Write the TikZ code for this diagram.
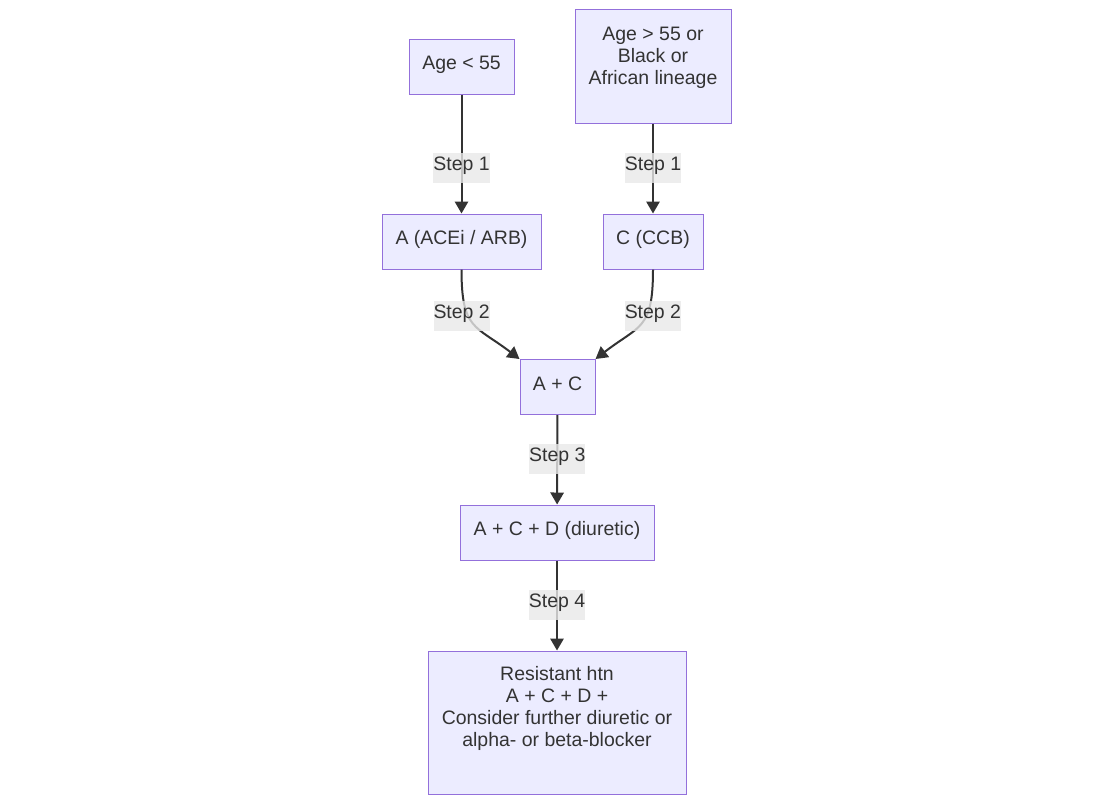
\documentclass[tikz,border=0pt]{standalone}
\usepackage{fontspec}
\setmainfont{Liberation Sans}
\usetikzlibrary{arrows.meta}
\definecolor{boxfill}{HTML}{ECECFF}
\definecolor{boxline}{HTML}{9370DB}
\definecolor{edgecol}{HTML}{333333}
\definecolor{lblbg}{HTML}{E8E8E8}
\begin{document}
\begin{tikzpicture}[x=0.75pt,y=-0.75pt,
  box/.style={draw=boxline, line width=0.75pt, fill=boxfill, text=edgecol,
    align=center, inner sep=0pt, minimum height=41.25pt,
    text height=10.5pt, text depth=6pt,
    font=\fontsize{14.6}{16.5}\selectfont},
  stepline/.style={draw=edgecol, line width=1.5pt,
    -{Triangle[length=9pt,width=10pt]}},
  steplabel/.style={fill=lblbg, fill opacity=0.8, text opacity=1, text=edgecol,
    inner xsep=0pt, inner ysep=0pt, text height=13pt, text depth=9.5pt,
    font=\fontsize{14.6}{16.5}\selectfont}]
\useasboundingbox (0,0) rectangle (1113,804);
% boxes
\node[box, minimum width=78.75pt] (young) at (461.5,66.5) {Age < 55};
\node[box, minimum width=117pt, minimum height=85.5pt, text height=, text depth=16pt] (old) at (653,66)
  {Age > 55 or\\Black or\\African lineage};
\node[box, minimum width=119.25pt] (acei) at (461.5,241.5) {A (ACEi / ARB)};
\node[box, minimum width=75pt] (ccb) at (653,241.5) {C (CCB)};
\node[box, minimum width=56.25pt] (ac) at (557.5,387) {A + C};
\node[box, minimum width=145.5pt] (acd) at (557,532.5) {A + C + D (diuretic)};
\node[box, minimum width=193.5pt, minimum height=107.25pt, text height=, text depth=23.5pt] (resist) at (557,722.5)
  {Resistant htn\\A + C + D +\\Consider further diuretic or\\alpha- or beta-blocker};
% steps
\draw[stepline] (young) -- node[steplabel, pos=0.617] {Step 1} (acei);
\draw[stepline] (old) -- node[steplabel, pos=0.495] {Step 1} (ccb);
\draw[stepline] (acei.south) .. controls (461.5,330) and (475,325) ..
  node[steplabel, pos=0.38, xshift=-5pt] {Step 2} (ac.north west);
\draw[stepline] (ccb.south) .. controls (653,330) and (639.5,325) ..
  node[steplabel, pos=0.38, xshift=5pt] {Step 2} (ac.north east);
\draw[stepline] (ac) -- node[steplabel, pos=0.495] {Step 3} (acd);
\draw[stepline] (acd) -- node[steplabel, pos=0.495] {Step 4} (resist);
\end{tikzpicture}
\end{document}
